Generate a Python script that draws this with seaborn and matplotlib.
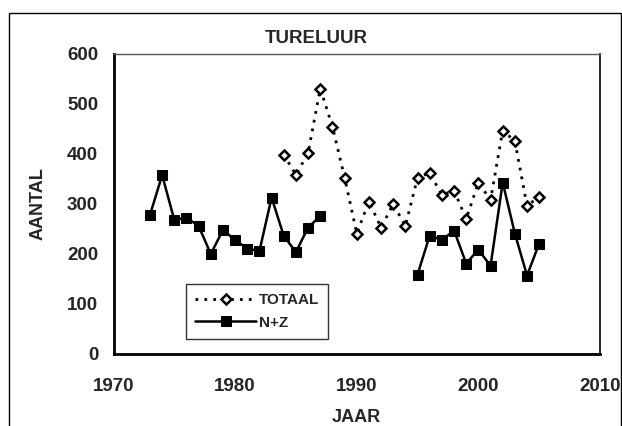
import numpy as np
import pandas as pd
import matplotlib
matplotlib.use("Agg")
import matplotlib.pyplot as plt
import seaborn as sns
from matplotlib.patches import Rectangle

# data
years_tot = list(range(1984, 2006))
totaal = [399, 358, 402, 531, 455, 353, 241, 305, 253, 300, 256,
          353, 362, 318, 327, 270, 343, 308, 447, 426, 296, 315]

years_nz_a = list(range(1973, 1988))
nz_a = [278, 358, 268, 273, 256, 200, 248, 228, 211, 206, 313, 236, 204, 253, 276]
years_nz_b = list(range(1995, 2006))
nz_b = [159, 237, 228, 247, 181, 209, 176, 343, 241, 157, 221]

x_ticks = [1970, 1980, 1990, 2000, 2010]
y_ticks = [0, 100, 200, 300, 400, 500, 600]

df_tot = pd.DataFrame({"JAAR": years_tot, "AANTAL": totaal})
df_nz = pd.DataFrame({
    "JAAR": years_nz_a + years_nz_b,
    "AANTAL": nz_a + nz_b,
    "deel": ["a"] * len(nz_a) + ["b"] * len(nz_b),
})

sns.set_style("white")
plt.rcParams['font.family'] = ['Liberation Sans', 'DejaVu Sans']
plt.rcParams['font.weight'] = 'bold'

fig = plt.figure(figsize=(6.22, 4.26), dpi=100)
ax = fig.add_axes([113.5 / 622, 72 / 426, 486.5 / 622, 300 / 426])

# outer chart border
fig.patches.append(Rectangle((9 / 622, -0.05), 612 / 622, 1.05 - 13 / 426,
                             transform=fig.transFigure, fill=False,
                             edgecolor="black", linewidth=1.0))

sns.lineplot(data=df_tot, x="JAAR", y="AANTAL", ax=ax, color="black",
             linestyle=(0, (1, 2.2)), linewidth=2.0, marker="D",
             markersize=5.5, markerfacecolor="white", markeredgecolor="black",
             markeredgewidth=1.8, label="TOTAAL")
sns.lineplot(data=df_nz, x="JAAR", y="AANTAL", units="deel", estimator=None,
             ax=ax, color="black", linewidth=1.8, marker="s", markersize=7,
             markerfacecolor="black", markeredgecolor="black", label="N+Z")

ax.set_xlim(1970, 2010)
ax.set_ylim(0, 600)
ax.set_xticks(x_ticks)
ax.set_yticks(y_ticks)
ax.tick_params(axis="x", direction="in", length=4, width=1, labelsize=13.5, pad=17)
ax.tick_params(axis="y", direction="out", length=5, width=1, labelsize=13.5, pad=6)
for lab in ax.get_xticklabels() + ax.get_yticklabels():
    lab.set_fontweight("bold")

for side in ["left", "bottom"]:
    ax.spines[side].set_linewidth(2.0)
    ax.spines[side].set_color("black")
ax.spines["right"].set_linewidth(1.2)
ax.spines["right"].set_color("black")
ax.spines["top"].set_linewidth(1.0)
ax.spines["top"].set_color("#555555")

ax.set_xlabel("JAAR", fontsize=13, fontweight="bold", labelpad=10)
ax.set_ylabel("AANTAL", fontsize=13, fontweight="bold", labelpad=15)
fig.text(316 / 622, 1 - 38.5 / 426, "TURELUUR", ha="center", va="center",
         fontsize=13.5, fontweight="bold")

handles, labels = ax.get_legend_handles_labels()
uniq = dict(zip(labels, handles))
leg = ax.legend(list(uniq.values()), list(uniq.keys()),
                loc="lower left", bbox_to_anchor=(72.5 / 486.5, 15 / 300),
                frameon=True, fancybox=False, edgecolor="black",
                fontsize=11, handlelength=4.0, handletextpad=0.15,
                borderpad=0.6, labelspacing=0.55, borderaxespad=0)
leg.get_frame().set_linewidth(1.0)
for t in leg.get_texts():
    t.set_fontweight("bold")

fig.savefig("out.png", dpi=100)
